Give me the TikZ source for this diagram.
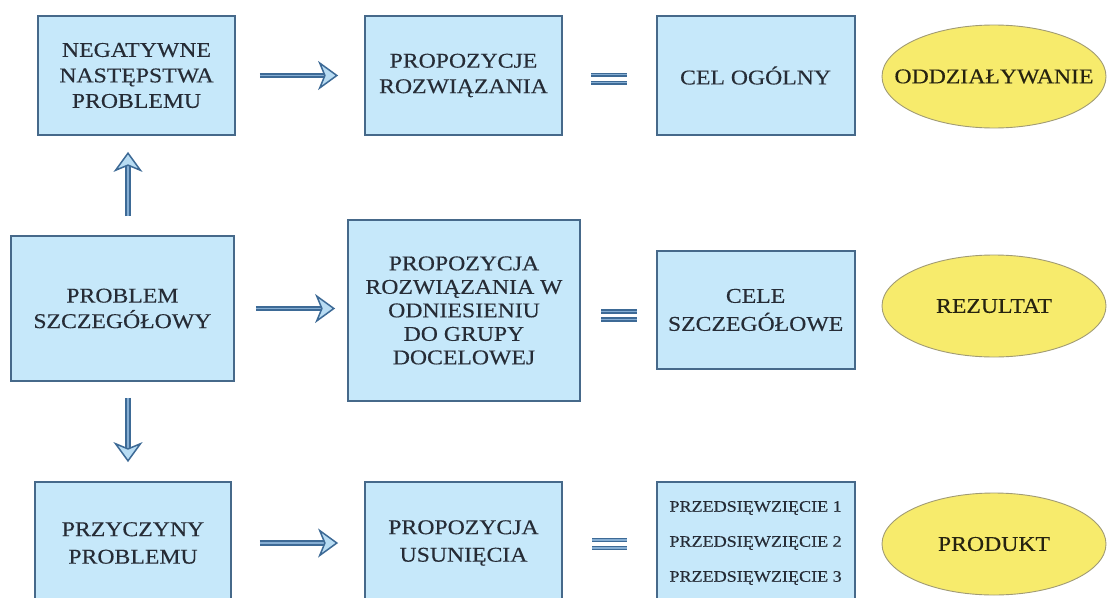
\documentclass[tikz,border=0pt]{standalone}
\usepackage{fontspec}
\setmainfont{Liberation Serif}[FakeStretch=1.13, FakeBold=0.3]
\usetikzlibrary{arrows.meta,shapes.geometric}
\definecolor{boxfill}{HTML}{C6E8FA}
\definecolor{boxline}{HTML}{46698A}
\definecolor{ellfill}{HTML}{F7EB6C}
\definecolor{ellline}{HTML}{A19B74}
\definecolor{txtbox}{HTML}{262C36}
\definecolor{txtell}{HTML}{262310}
\definecolor{arrline}{HTML}{3D6A96}
\definecolor{arrfill}{HTML}{B8DCF3}
\definecolor{arrcore}{HTML}{86AED3}
\begin{document}
\begin{tikzpicture}[x=1pt,y=-1pt,
  blk/.style={draw=boxline, fill=boxfill, line width=1.8pt, text=txtbox, align=center, inner sep=0pt, font=\fontsize{21}{25.5}\selectfont},
  oval/.style={ellipse, draw=ellline, fill=ellfill, line width=0.9pt, text=txtell, inner sep=0pt, font=\fontsize{21}{25.5}\selectfont},
  conn/.style={draw=arrline, line width=1.7pt, double=arrcore, double distance=1.8pt, -{Stealth[length=20pt, width=29pt, inset=6pt, fill=arrfill, line width=1.5pt]}},
  eqbar/.style={draw=arrline, line width=1.5pt, double=arrcore, double distance=1.2pt}
]
\useasboundingbox (0,0) rectangle (1108,597);
\fill[white] (0,0) rectangle (1108,597);
\clip (0,0) rectangle (1108,597);

% row 1
\node[blk, minimum width=197pt, minimum height=119pt] (neg) at (136.5,75.5) {NEGATYWNE\\NASTĘPSTWA\\PROBLEMU};
\node[blk, minimum width=197pt, minimum height=119pt] (prop1) at (463.5,75.5) {PROPOZYCJE\\ROZWIĄZANIA};
\node[blk, minimum width=198pt, minimum height=119pt] (cel) at (755.6,75.5) {CEL OGÓLNY};
\node[oval, minimum width=224pt, minimum height=103pt] (ell1) at (994,76.5) {\makebox[0pt]{ODDZIAŁYWANIE}};

% row 2
\node[blk, minimum width=223pt, minimum height=145pt] (prob) at (122.4,308.5) {PROBLEM\\SZCZEGÓŁOWY};
\node[blk, minimum width=232pt, minimum height=181pt, font=\fontsize{21}{23.5}\selectfont] (prop2) at (464,310.5) {PROPOZYCJA\\ROZWIĄZANIA W\\ODNIESIENIU\\DO GRUPY\\DOCELOWEJ};
\node[blk, minimum width=198pt, minimum height=118pt, font=\fontsize{21}{28}\selectfont] (cele) at (755.6,310) {CELE\\SZCZEGÓŁOWE};
\node[oval, minimum width=224pt, minimum height=102pt] (ell2) at (994,306) {\makebox[0pt]{REZULTAT}};

% row 3
\node[blk, minimum width=196pt, minimum height=122pt, font=\fontsize{21}{27.5}\selectfont] (przy) at (133,543) {PRZYCZYNY\\PROBLEMU};
\node[blk, minimum width=197pt, minimum height=122pt, font=\fontsize{21}{27.5}\selectfont] (prop3) at (463.5,543) {PROPOZYCJA\\USUNIĘCIA};
\node[blk, minimum width=198pt, minimum height=122pt, font=\fontsize{16}{35}\selectfont] (przed) at (755.6,543) {PRZEDSIĘWZIĘCIE 1\\PRZEDSIĘWZIĘCIE 2\\PRZEDSIĘWZIĘCIE 3};
\node[oval, minimum width=224pt, minimum height=102pt] (ell3) at (994,544) {\makebox[0pt]{PRODUKT}};

% horizontal arrows
\draw[conn, shorten <=24pt, shorten >=26pt] (neg.east) -- (neg.east -| prop1.west);
\draw[conn, shorten <=21pt, shorten >=12pt] (prob.east) -- (prob.east -| prop2.west);
\draw[conn, shorten <=28pt, shorten >=26pt] (przy.east) -- (przy.east -| prop3.west);

% vertical arrows
\coordinate (vx) at (128,0);
\draw[conn, shorten <=19pt, shorten >=16pt] (prob.north -| vx) -- (neg.south -| vx);
\draw[conn, shorten <=16pt, shorten >=19pt] (prob.south -| vx) -- (przy.north -| vx);

% equals signs
\draw[eqbar] (591,74.7) -- (627,74.7);
\draw[eqbar] (591,82.8) -- (627,82.8);
\draw[eqbar] (601,311.5) -- (637,311.5);
\draw[eqbar] (601,319.5) -- (637,319.5);
\draw[eqbar] (592,540) -- (627,540);
\draw[eqbar] (592,548) -- (627,548);
\end{tikzpicture}
\end{document}
